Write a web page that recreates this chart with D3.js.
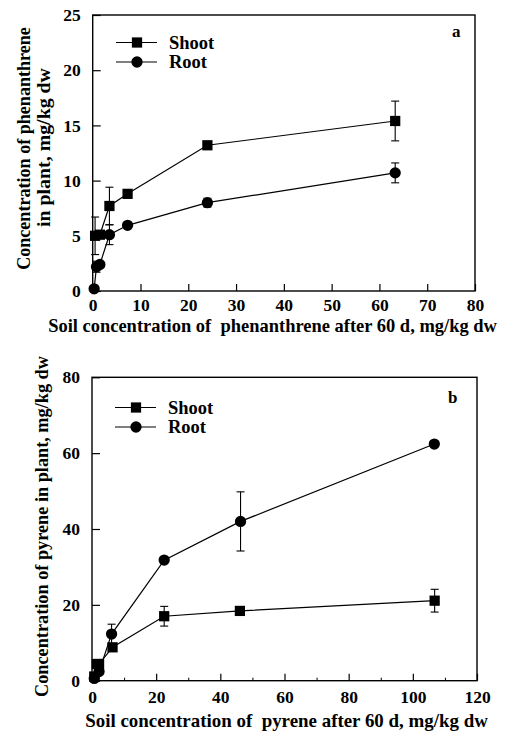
<!DOCTYPE html>
<html>
<head>
<meta charset="utf-8">
<script src="https://cdn.jsdelivr.net/npm/d3@7"></script>
<style>
  html, body { margin: 0; padding: 0; background: #fff; }
</style>
</head>
<body>
<div id="chart"></div>
<script>
// ---- Data: panel a (phenanthrene) ------------------------------------
const phenShootX   = [0.5, 1.5, 3.5, 7.3, 24, 63.3];
const phenShootY   = [5.0, 5.1, 7.7, 8.8, 13.2, 15.4];
const phenShootErr = [1.7, 0, 1.7, 0, 0, 1.8];
const phenRootX    = [0.3, 0.8, 1.5, 3.5, 7.3, 24, 63.3];
const phenRootY    = [0.2, 2.2, 2.4, 5.1, 5.95, 8.0, 10.7];
const phenRootErr  = [0, 0.5, 0, 0.9, 0, 0.4, 0.9];
const phenXTicks   = [0, 10, 20, 30, 40, 50, 60, 70, 80];
const phenYTicks   = [0, 5, 10, 15, 20, 25];

// ---- Data: panel b (pyrene) ------------------------------------------
const pyrShootX    = [0.7, 1.5, 2.2, 6.4, 22.5, 46.1, 106.8];
const pyrShootY    = [1.1, 4.4, 4.4, 8.8, 17.0, 18.4, 21.1];
const pyrShootErr  = [0, 0, 0, 0, 2.6, 0, 3.0];
const pyrRootX     = [0.7, 2.2, 6.1, 22.5, 46.3, 106.7];
const pyrRootY     = [0.6, 2.4, 12.3, 31.8, 42.0, 62.4];
const pyrRootErr   = [0, 0, 2.6, 0, 7.8, 0];
const pyrXTicks    = [0, 20, 40, 60, 80, 100, 120];
const pyrYTicks    = [0, 20, 40, 60, 80];

const seriesNames  = ['Shoot', 'Root'];

const zip = (xs, ys, es) => xs.map((x, i) => ({ x, y: ys[i], e: es[i] }));

const svg = d3.select('#chart')
  .append('svg')
  .attr('width', 507)
  .attr('height', 734);

// serif bold text
function label(sel, size) {
  return sel.style('font-family', "'Liberation Serif'").style('font-weight', 'bold')
    .style('font-size', size + 'px').attr('fill', '#000');
}
// shrink/grow font so the text spans a given length
function fit(sel, len) {
  const base = 16;
  sel.style('font-size', base + 'px');
  const w = sel.node().getComputedTextLength();
  sel.style('font-size', (base * len / w) + 'px');
  return sel;
}

function drawPanel(cfg) {
  const x = d3.scaleLinear().domain(cfg.xDomain).range([cfg.left, cfg.right]);
  const y = d3.scaleLinear().domain(cfg.yDomain).range([cfg.bottom, cfg.top]);
  const g = svg.append('g');

  // frame
  g.append('rect')
    .attr('x', cfg.left).attr('y', cfg.top)
    .attr('width', cfg.right - cfg.left)
    .attr('height', cfg.bottom - cfg.top)
    .attr('fill', 'none').attr('stroke', '#000').attr('stroke-width', 1.4);

  // axes (ticks pointing inward)
  const xAxis = g.append('g')
    .attr('transform', `translate(0,${cfg.bottom})`)
    .call(d3.axisTop(x).tickValues(cfg.xTicks).tickSize(7).tickFormat(d3.format('d')));
  xAxis.selectAll('text').attr('y', cfg.xLabelOffset).attr('dy', '0.35em');
  const yAxis = g.append('g')
    .attr('transform', `translate(${cfg.left},0)`)
    .call(d3.axisRight(y).tickValues(cfg.yTicks).tickSize(8).tickFormat(d3.format('d')));
  yAxis.selectAll('text').attr('x', -12).attr('text-anchor', 'end');
  [xAxis, yAxis].forEach(a => {
    a.attr('font-family', null);
    a.select('.domain').remove();
    a.selectAll('line').attr('stroke', '#000').attr('stroke-width', 1.2);
    label(a.selectAll('text'), 17.5);
  });
  if (cfg.xMinor) {
    g.append('g')
      .attr('transform', `translate(0,${cfg.bottom})`)
      .call(d3.axisTop(x).tickValues(cfg.xMinor).tickSize(3).tickFormat(''))
      .call(a => a.select('.domain').remove())
      .selectAll('line').attr('stroke', '#000');
  }

  // axis titles
  fit(label(g.append('text'), 16)
    .attr('x', cfg.xTitle.x).attr('y', cfg.xTitle.y)
    .attr('text-anchor', 'middle')
    .style('white-space', 'pre')
    .text(cfg.xTitle.text), cfg.xTitle.len);
  cfg.yTitle.forEach(t => {
    fit(label(g.append('text'), 16)
      .attr('transform', `translate(${t.x},${t.y}) rotate(-90)`)
      .attr('text-anchor', 'middle')
      .text(t.text), t.len);
  });

  // panel letter
  label(g.append('text'), 17)
    .attr('x', cfg.letterX).attr('y', cfg.letterY)
    .text(cfg.letter);

  const line = d3.line().x(d => x(d.x)).y(d => y(d.y));

  cfg.series.forEach((s, si) => {
    g.append('path')
      .datum(s)
      .attr('fill', 'none').attr('stroke', '#000').attr('stroke-width', 1.2)
      .attr('d', line);

    const eb = g.append('g').selectAll('g')
      .data(s.filter(d => d.e > 0))
      .join('g')
      .attr('stroke', '#000').attr('stroke-width', 1.1);
    eb.append('line')
      .attr('x1', d => x(d.x)).attr('x2', d => x(d.x))
      .attr('y1', d => y(d.y - d.e)).attr('y2', d => y(d.y + d.e));
    [-1, 1].forEach(sgn => {
      eb.append('line')
        .attr('x1', d => x(d.x) - 4).attr('x2', d => x(d.x) + 4)
        .attr('y1', d => y(d.y + sgn * d.e)).attr('y2', d => y(d.y + sgn * d.e));
    });

    const sym = d3.symbol().type(si === 0 ? d3.symbolSquare : d3.symbolCircle)
      .size(si === 0 ? 105 : 100);
    g.append('g').selectAll('path')
      .data(s)
      .join('path')
      .attr('transform', d => `translate(${x(d.x)},${y(d.y)})`)
      .attr('d', sym)
      .attr('fill', '#000');
  });

  // legend
  seriesNames.forEach((name, i) => {
    const ly = cfg.legendY + i * 19.5;
    g.append('line')
      .attr('x1', cfg.legendX).attr('x2', cfg.legendX + 41)
      .attr('y1', ly).attr('y2', ly)
      .attr('stroke', '#000').attr('stroke-width', 1.2);
    g.append('path')
      .attr('transform', `translate(${cfg.legendX + 21},${ly})`)
      .attr('d', d3.symbol().type(i === 0 ? d3.symbolSquare : d3.symbolCircle).size(i === 0 ? 105 : 100))
      .attr('fill', '#000');
    label(g.append('text'), 18.5)
      .attr('x', cfg.legendX + 53).attr('y', ly)
      .attr('dy', '0.33em')
      .text(name);
  });
}

drawPanel({
  left: 92.7, right: 475, top: 15, bottom: 291,
  xDomain: [0, 80], yDomain: [0, 25],
  xTicks: phenXTicks, yTicks: phenYTicks, xLabelOffset: 14,
  xTitle: { text: 'Soil concentration of  phenanthrene after 60 d, mg/kg dw', x: 272.5, y: 332, len: 449 },
  yTitle: [
    { text: 'Concentration of phenanthrene', x: 30, y: 148.5, len: 243 },
    { text: 'in plant, mg/kg dw', x: 50, y: 147.5, len: 159 }
  ],
  letter: 'a', letterX: 452, letterY: 37,
  legendX: 116, legendY: 42.5,
  series: [zip(phenShootX, phenShootY, phenShootErr), zip(phenRootX, phenRootY, phenRootErr)]
});

drawPanel({
  left: 92, right: 477, top: 377.3, bottom: 680.7,
  xDomain: [0, 120], yDomain: [0, 80],
  xTicks: pyrXTicks, yTicks: pyrYTicks, xLabelOffset: 16,
  xMinor: [10, 30, 50, 70, 90, 110],
  xTitle: { text: 'Soil concentration of  pyrene after 60 d, mg/kg dw', x: 286.5, y: 727, len: 403 },
  yTitle: [
    { text: 'Concentration of pyrene in plant, mg/kg dw', x: 48, y: 526.5, len: 341 }
  ],
  letter: 'b', letterX: 448, letterY: 403,
  legendX: 115, legendY: 407.5,
  series: [zip(pyrShootX, pyrShootY, pyrShootErr), zip(pyrRootX, pyrRootY, pyrRootErr)]
});
</script>
</body>
</html>
